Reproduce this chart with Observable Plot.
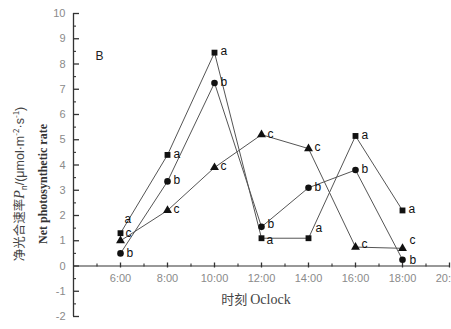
<!DOCTYPE html>
<html>
<head>
<meta charset="utf-8">
<script src="https://cdn.jsdelivr.net/npm/d3@7"></script>
<script src="https://cdn.jsdelivr.net/npm/@observablehq/plot@0.6"></script>
<style>
  html, body { margin: 0; padding: 0; background: #fff; overflow: hidden; width: 451px; height: 329px; }
  #chart { position: relative; width: 451px; height: 329px; }
  #chart svg { overflow: visible; }
</style>
</head>
<body>
<div id="chart"></div>
<script>
// Sampling hours and net photosynthetic rate (μmol·m⁻²·s⁻¹) for three treatments
const hours = [6, 8, 10, 12, 14, 16, 18];
const rateA = [1.3, 4.4, 8.45, 1.1, 1.1, 5.15, 2.2];
const rateB = [0.5, 3.35, 7.25, 1.55, 3.1, 3.8, 0.25];
const rateC = [1.0, 2.2, 3.9, 5.2, 4.65, 0.75, 0.7];
const seriesNames = ["a", "b", "c"];
const seriesSymbols = ["square", "circle", "triangle"];

// Axis ticks and their labels
const xTicks = [6, 8, 10, 12, 14, 16, 18, 20];
const xTickLabels = ["6:00", "8:00", "10:00", "12:00", "14:00", "16:00", "18:00", "20:00"];
const xMinorTicks = [5, 7, 9, 11, 13, 15, 17, 19];
const yTicks = [-2, -1, 0, 1, 2, 3, 4, 5, 6, 7, 8, 9, 10];
const yMinorTicks = [-1.5, -0.5, 0.5, 1.5, 2.5, 3.5, 4.5, 5.5, 6.5, 7.5, 8.5, 9.5];
const xDomain = [4, 20];
const yDomain = [-2, 10];

const rows = [rateA, rateB, rateC].flatMap((vals, s) =>
  hours.map((h, i) => ({hour: h, rate: vals[i], series: seriesNames[s]}))
);

const W = 451, H = 329;
const margin = {top: 13, right: 2, bottom: 13, left: 73};
const frameW = W - margin.left - margin.right;
const frameH = H - margin.top - margin.bottom;
// pixel offset of y = 0 from the top of the frame
const zeroOffset = (yDomain[1] - 0) / (yDomain[1] - yDomain[0]) * frameH;

const axisColor = "#333";
const tickText = "#8a8a8a";

// Letter labels sit to the right of each marker; a few are nudged to avoid crowding
function labelNudge(d) {
  const key = d.series + d.hour;
  switch (key) {
    case "a6": return [4, -14];
    case "c6": return [5, -8];
    case "b6": return [6, 0];
    case "a14": return [7, -10];
    case "b12": return [6, -3];
    case "a12": return [5, 2];
    case "c16": return [6, -3];
    case "c18": return [7, -8];
    case "b18": return [7, 0];
    default: return [6, -1];
  }
}
const nudgeGroups = d3.groups(rows, d => labelNudge(d).join(","));

const plot = Plot.plot({
  width: W,
  height: H,
  marginTop: margin.top,
  marginRight: margin.right,
  marginBottom: margin.bottom,
  marginLeft: margin.left,
  style: {fontFamily: "'Liberation Sans', Arial, sans-serif", background: "transparent"},
  x: {domain: xDomain, axis: null},
  y: {domain: yDomain, axis: null},
  symbol: {domain: seriesNames, range: seriesSymbols},
  marks: [
    // axis lines
    Plot.ruleX([xDomain[0]], {stroke: axisColor, strokeWidth: 1.3}),
    Plot.ruleY([0], {stroke: axisColor, strokeWidth: 1.1}),
    // y ticks pointing inward
    Plot.tickY(yTicks, {y: d => d, insetRight: frameW - 6, stroke: axisColor, strokeWidth: 1.3}),
    Plot.tickY(yMinorTicks, {y: d => d, insetRight: frameW - 3, stroke: axisColor, strokeWidth: 1.1}),
    // x ticks straddling the zero line
    Plot.tickX(xTicks, {x: d => d, insetTop: zeroOffset - 3, insetBottom: frameH - zeroOffset - 2, stroke: axisColor, strokeWidth: 1.3}),
    Plot.tickX(xMinorTicks, {x: d => d, insetTop: zeroOffset - 2, insetBottom: frameH - zeroOffset - 1, stroke: axisColor, strokeWidth: 1.1}),
    // tick labels
    Plot.text(yTicks, {x: xDomain[0], y: d => d, text: d => String(d), textAnchor: "end", dx: -8, fill: tickText, fontSize: 11}),
    Plot.text(xTicks, {x: d => d, y: 0, text: (d, i) => xTickLabels[i], dy: 12, fill: tickText, fontSize: 11}),
    // panel letter
    Plot.text(["B"], {frameAnchor: "top-left", text: d => d, dx: 22, dy: 43, lineAnchor: "middle", textAnchor: "start", fontSize: 12, fill: "#222"}),
    // series
    Plot.line(rows, {x: "hour", y: "rate", z: "series", stroke: "#555", strokeWidth: 1}),
    Plot.dot(rows, {x: "hour", y: "rate", symbol: "series", fill: "#111", stroke: "none", r: 3.3}),
    ...nudgeGroups.map(([key, group]) => {
      const [dx, dy] = key.split(",").map(Number);
      return Plot.text(group, {x: "hour", y: "rate", text: "series", textAnchor: "start", dx, dy, fontSize: 12, fill: "#111"});
    })
  ]
});

document.getElementById("chart").appendChild(plot);

// y-axis titles (Chinese with rich formatting, and English)
const svg = d3.select(plot);
const cy = 184;
const zh = svg.append("text")
  .attr("transform", `translate(24,${cy}) rotate(-90)`)
  .attr("text-anchor", "middle")
  .attr("font-size", 12.5)
  .attr("fill", "#444")
  .attr("font-family", "'Noto Sans CJK SC', sans-serif");
zh.append("tspan").text("净光合速率");
zh.append("tspan").attr("font-style", "italic").attr("font-family", "'Liberation Serif', serif").attr("font-size", 14).text("P");
zh.append("tspan").attr("font-size", 8).attr("dy", 3).text("n");
zh.append("tspan").attr("dy", -3).attr("font-family", "'Liberation Sans', Arial, sans-serif").text("/(μmol·m");
zh.append("tspan").attr("font-size", 8).attr("dy", -5).text("-2");
zh.append("tspan").attr("dy", 5).attr("font-family", "'Liberation Sans', Arial, sans-serif").text("·s");
zh.append("tspan").attr("font-size", 8).attr("dy", -5).text("-1");
zh.append("tspan").attr("dy", 5).attr("font-family", "'Liberation Sans', Arial, sans-serif").text(")");

svg.append("text")
  .attr("transform", `translate(47,${cy}) rotate(-90)`)
  .attr("text-anchor", "middle")
  .attr("font-size", 12)
  .attr("font-weight", "bold")
  .attr("fill", "#333")
  .attr("font-family", "'Liberation Serif', 'Times New Roman', serif")
  .text("Net photosynthetic rate");

// x-axis title
const xt = svg.append("text")
  .attr("x", 256)
  .attr("y", 304)
  .attr("text-anchor", "middle")
  .attr("font-size", 13)
  .attr("fill", "#444");
xt.append("tspan").attr("font-family", "'Noto Sans CJK SC', sans-serif").text("时刻 ");
xt.append("tspan").attr("font-family", "'Liberation Serif', serif").attr("font-size", 14).text("Oclock");
</script>
</body>
</html>
